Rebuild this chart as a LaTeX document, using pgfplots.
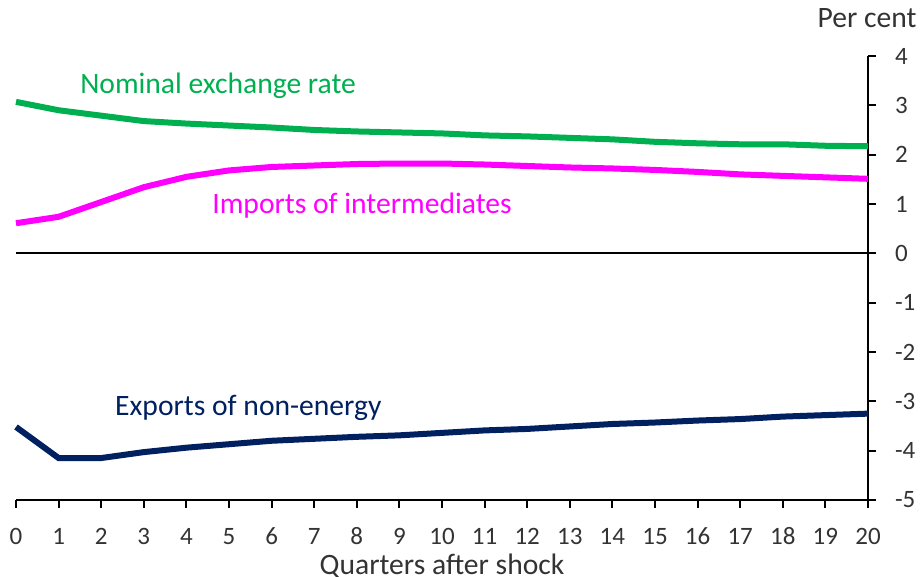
\documentclass[border=0pt]{standalone}
\usepackage{fontspec}
\setmainfont{Carlito}
\usepackage{pgfplots}
\pgfplotsset{compat=1.18}

\definecolor{fxgreen}{HTML}{00B050}
\definecolor{impmag}{HTML}{FF00FF}
\definecolor{expnavy}{HTML}{002060}

\begin{document}
\begin{tikzpicture}
\begin{axis}[
  scale only axis, width=426pt, height=222pt,
  xmin=0, xmax=20, ymin=-5, ymax=4,
  axis x line=bottom, axis y line=right,
  axis line style={-, line width=1pt},
  tick align=outside, major tick length=4pt,
  tick style={line width=1pt, black},
  xtick={0,...,20}, ytick={-5,...,4},
  /pgf/number format/assume math mode=true,
  ticklabel style={font=\fontsize{12.5}{14}\selectfont, text=black!80},
  xticklabel style={yshift=-5.5pt, text height=9pt, text depth=0pt},
  yticklabel style={xshift=6pt},
  xlabel={Quarters after shock},
  xlabel style={font=\fontsize{14.8}{16}\selectfont, text=black!80, yshift=2pt},
  clip=false,
]
\addplot[black, line width=1pt] coordinates {(0,0) (20,0)};
\addplot[fxgreen, line width=3pt] coordinates {
 (0,3.07) (1,2.90) (2,2.79) (3,2.68) (4,2.63) (5,2.59) (6,2.55) (7,2.50)
 (8,2.47) (9,2.45) (10,2.43) (11,2.39) (12,2.37) (13,2.34) (14,2.31)
 (15,2.26) (16,2.23) (17,2.21) (18,2.21) (19,2.18) (20,2.17)};
\addplot[impmag, line width=3pt] coordinates {
 (0,0.61) (1,0.74) (2,1.04) (3,1.34) (4,1.55) (5,1.68) (6,1.75) (7,1.78)
 (8,1.81) (9,1.82) (10,1.82) (11,1.80) (12,1.77) (13,1.74) (14,1.72)
 (15,1.69) (16,1.65) (17,1.60) (18,1.57) (19,1.54) (20,1.51)};
\addplot[expnavy, line width=3pt] coordinates {
 (0,-3.52) (1,-4.15) (2,-4.15) (3,-4.03) (4,-3.94) (5,-3.87) (6,-3.80)
 (7,-3.76) (8,-3.72) (9,-3.69) (10,-3.64) (11,-3.59) (12,-3.56) (13,-3.51)
 (14,-3.46) (15,-3.43) (16,-3.39) (17,-3.36) (18,-3.31) (19,-3.28) (20,-3.25)};
\node[anchor=west, text=fxgreen, font=\fontsize{14.8}{16}\selectfont, inner sep=0pt] at (axis cs:1.50,3.39) {Nominal exchange rate};
\node[anchor=west, text=impmag, font=\fontsize{14.8}{16}\selectfont, inner sep=0pt] at (axis cs:4.60,0.97) {Imports of intermediates};
\node[anchor=west, text=expnavy, font=\fontsize{14.8}{16}\selectfont, inner sep=0pt] at (axis cs:2.32,-3.14) {Exports of non-energy};
\node[anchor=east, text=black!80, font=\fontsize{14.8}{16}\selectfont, inner sep=0pt] at (axis cs:21.15,4.77) {Per cent};
\coordinate (bbll) at (axis cs:-0.3756,-6.561);
\coordinate (bbur) at (axis cs:21.2207,5.135);
\end{axis}
\pgfresetboundingbox
\path[use as bounding box] (bbll) rectangle (bbur);
\end{tikzpicture}
\end{document}
